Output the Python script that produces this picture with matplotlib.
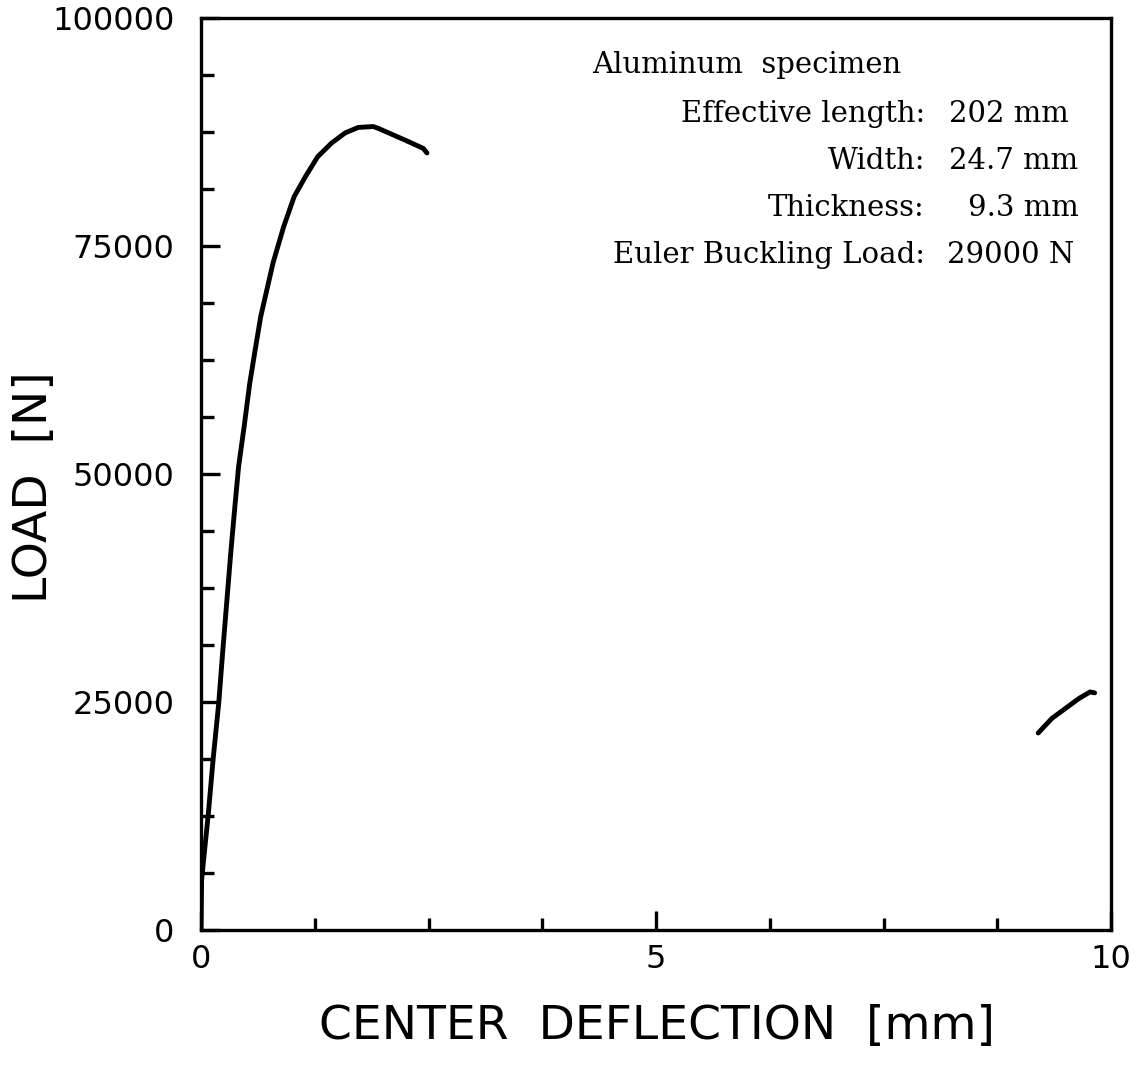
import numpy as np
import matplotlib
matplotlib.use("Agg")
import matplotlib.pyplot as plt
from matplotlib.ticker import MultipleLocator

# load-deflection record, first loading branch
defl_a = [0.0, 0.007, 0.036, 0.081, 0.132, 0.195, 0.240, 0.285, 0.330, 0.372,
          0.413, 0.474, 0.535, 0.595, 0.656, 0.793, 0.908, 1.023, 1.147,
          1.283, 1.436, 1.584, 1.728, 1.893, 1.948, 2.245, 2.443, 2.483]
load_a = [0, 5500, 8400, 12800, 18600, 24900, 30700, 36200, 41700, 46400,
          50800, 55200, 59900, 63600, 67250, 73200, 77100, 80400, 82600,
          84800, 86300, 87400, 88000, 88100, 87900, 86600, 85700, 85200]

# second short branch near 10 mm
defl_b = [9.20, 9.35, 9.52, 9.65, 9.77, 9.82]
load_b = [21600, 23200, 24450, 25400, 26100, 26000]

info_labels = ["Effective length:", "Width:", "Thickness:", "Euler Buckling Load:"]
info_values = ["202 mm", "24.7 mm", "9.3 mm", "29000 N"]
value_x = [949, 949, 968, 947]

W, H = 1141, 1082
fig = plt.figure(figsize=(W / 100, H / 100), dpi=100)
ax = fig.add_axes([201 / W, 1 - 930 / H, 910 / W, 912 / H])

ax.plot(defl_a, load_a, color="black", lw=3.5, solid_capstyle="round",
        solid_joinstyle="round")
ax.plot(defl_b, load_b, color="black", lw=3.5, solid_capstyle="round",
        solid_joinstyle="round")

ax.set_xlim(0, 10)
ax.set_ylim(0, 100000)
ax.xaxis.set_major_locator(MultipleLocator(5))
ax.xaxis.set_minor_locator(MultipleLocator(1.25))
ax.yaxis.set_major_locator(MultipleLocator(25000))
ax.yaxis.set_minor_locator(MultipleLocator(6250))

for s in ax.spines.values():
    s.set_linewidth(2.4)

ax.tick_params(which="both", direction="in", width=2.4, top=False, right=False)
ax.tick_params(which="major", length=14)
ax.tick_params(which="minor", length=9)
ax.tick_params(axis="x", which="major", pad=10, labelsize=23)
ax.tick_params(axis="y", which="major", pad=19, labelsize=23)

fig.text(35 / W, 1 - 487 / H, "LOAD  [N]", rotation=90, ha="center", va="center",
         fontsize=34, family="DejaVu Sans")
fig.text(657 / W, 1 - 1027 / H, "CENTER  DEFLECTION  [mm]", ha="center", va="center",
         fontsize=34, family="DejaVu Sans")

serif = dict(family="DejaVu Serif", fontsize=21)
fig.text(592 / W, 1 - 73 / H, "Aluminum  specimen", ha="left", va="baseline", **serif)
for i, (lab, val) in enumerate(zip(info_labels, info_values)):
    yb = 122 + 47 * i
    fig.text(925 / W, 1 - yb / H, lab, ha="right", va="baseline", **serif)
    fig.text(value_x[i] / W, 1 - yb / H, val, ha="left", va="baseline", **serif)

fig.savefig("out.png", dpi=100)
